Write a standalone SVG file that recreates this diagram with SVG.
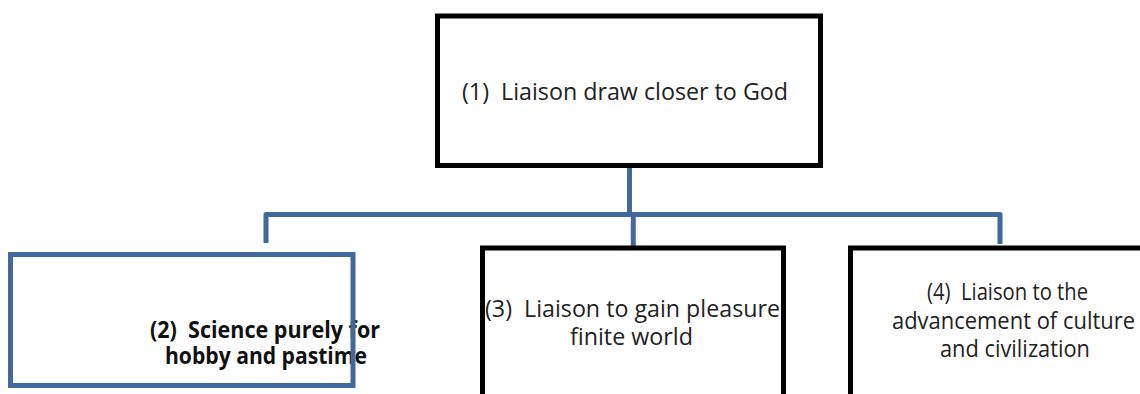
<svg xmlns="http://www.w3.org/2000/svg" width="1140" height="394" viewBox="0 0 1140 394">
<style>
.box{fill:#fff;stroke:#000;stroke-width:5}
.bbox{fill:none;stroke:#41699c;stroke-width:5}
.con{fill:none;stroke:#41699c;stroke-width:5;stroke-linejoin:round}
.t{font-family:"Open Sans","Liberation Sans",sans-serif;font-size:23.5px;fill:#222;white-space:pre}
.tb{font-family:"Open Sans","Liberation Sans",sans-serif;font-size:22.5px;font-weight:bold;fill:#111;white-space:pre}
</style>
<rect width="1140" height="394" fill="#fff"/>
<g id="connectors">
<path class="con" d="M629.5,166 V214.5"/>
<path class="con" d="M266,243 V214.5 H1000 V244"/>
<path class="con" d="M633.3,214.5 V246"/>
</g>
<g id="node1">
<rect class="box" x="437.5" y="16" width="383" height="149.5"/>
<text class="t" x="462" y="100" textLength="326" lengthAdjust="spacingAndGlyphs">(1)  Liaison draw closer to God</text>
</g>
<g id="node2">
<rect x="10.5" y="254.5" width="342.5" height="131" fill="#fff"/>
<text class="tb" x="150" y="338" textLength="230" lengthAdjust="spacingAndGlyphs">(2)  Science purely for</text>
<text class="tb" x="165" y="364" textLength="202" lengthAdjust="spacingAndGlyphs">hobby and pastime</text>
<rect class="bbox" x="10.5" y="254.5" width="342.5" height="131"/>
</g>
<g id="node3">
<rect class="box" x="482.5" y="248" width="301" height="200"/>
<text class="t" x="485" y="317" textLength="295" lengthAdjust="spacingAndGlyphs">(3)  Liaison to gain pleasure</text>
<text class="t" x="570" y="345" textLength="123" lengthAdjust="spacingAndGlyphs">finite world</text>
</g>
<g id="node4">
<rect class="box" x="850.5" y="248" width="320" height="200"/>
<text class="t" x="927" y="300" textLength="161" lengthAdjust="spacingAndGlyphs">(4)  Liaison to the</text>
<text class="t" x="892" y="329" textLength="243" lengthAdjust="spacingAndGlyphs">advancement of culture</text>
<text class="t" x="940" y="357" textLength="150" lengthAdjust="spacingAndGlyphs">and civilization</text>
</g>
</svg>
